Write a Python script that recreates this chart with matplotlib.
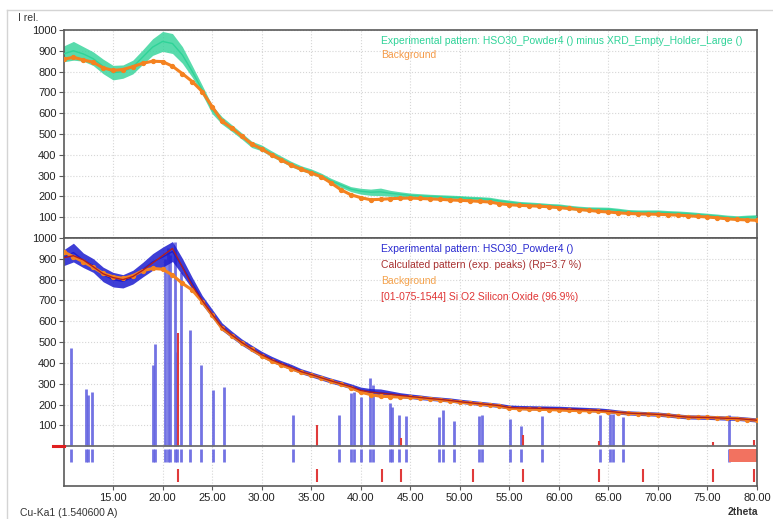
import matplotlib
matplotlib.use("Agg")
import matplotlib.pyplot as plt
import numpy as np

plt.rcParams['font.family'] = ['Liberation Sans', 'DejaVu Sans']

# ---------------- data ----------------
two_theta = list(range(10, 81))

upper_exp = [885, 900, 885, 862, 825, 795, 800, 822, 870, 918, 945, 935, 880, 800, 712,
             618, 565, 528, 490, 450, 433, 405, 380, 355, 335, 320, 300, 275, 255, 235,
             225, 220, 222, 215, 210, 205, 202, 200, 198, 196, 194, 191, 189, 186, 178,
             172, 166, 163, 160, 156, 154, 148, 143, 140, 139, 138, 133, 127, 125, 125,
             125, 122, 120, 117, 113, 109, 105, 100, 97, 100, 102]

upper_bg = [859, 869, 856, 845, 818, 806, 810, 824, 840, 850, 848, 826, 790, 752, 704,
            632, 562, 528, 490, 452, 428, 400, 375, 350, 330, 313, 295, 265, 232, 208,
            194, 184, 186, 189, 191, 192, 190, 188, 186, 183, 181, 179, 176, 173, 165,
            160, 157, 155, 153, 150, 146, 142, 137, 133, 128, 125, 121, 118, 116, 115,
            114, 112, 110, 107, 104, 101, 97, 92, 89, 87, 85]

noise_halfwidth = [38, 45, 35, 33, 35, 35, 32, 33, 35, 40, 48, 48, 40,
                   28, 22, 20, 18, 16, 15, 15, 14,
                   14, 13, 13, 12, 12, 12, 12, 12, 12, 14,
                   15, 18, 14, 12, 11, 11, 10, 10, 10, 10,
                   10, 10, 10, 10, 10, 10, 10, 10, 10, 10,
                   10, 10, 10, 10, 10, 10, 10, 10, 10, 10,
                   10, 10, 10, 10, 10, 10, 10, 10, 10, 10]

lower_exp = [905, 930, 893, 868, 825, 800, 792, 812, 848, 885, 908, 935, 862, 782, 702,
             638, 574, 536, 500, 470, 442, 418, 398, 380, 360, 345, 330, 315, 302, 288,
             270, 262, 257, 252, 245, 240, 235, 230, 226, 222, 216, 211, 206, 201, 196,
             188, 186, 185, 184, 183, 182, 180, 178, 176, 174, 170, 164, 160, 158, 156,
             154, 150, 145, 141, 140, 139, 137, 135, 134, 130, 126]

lower_bg = [934, 910, 886, 859, 830, 814, 806, 819, 843, 854, 850, 822, 782, 750, 694,
            630, 566, 530, 496, 465, 434, 410, 390, 372, 355, 342, 328, 312, 298, 282,
            260, 248, 240, 238, 236, 235, 232, 228, 223, 218, 212, 207, 203, 198, 193,
            182, 180, 178, 177, 176, 174, 172, 171, 170, 168, 165, 161, 158, 156, 154,
            152, 148, 143, 140, 139, 138, 136, 134, 132, 128, 124]

lower_calc = [905, 915, 895, 862, 828, 810, 800, 815, 845, 880, 915, 950, 860, 770, 700,
              635, 572, 534, 498, 468, 440, 416, 396, 378, 358, 344, 329, 314, 300, 286,
              268, 260, 255, 250, 244, 239, 234, 229, 225, 220, 214, 209, 204, 200, 195,
              186, 184, 183, 182, 181, 180, 178, 176, 174, 172, 168, 163, 159, 157, 155,
              153, 149, 144, 140, 139, 138, 136, 134, 133, 129, 125]

blue_pos = [10.73, 12.31, 12.47, 12.91, 19.07, 19.27, 20.25, 20.52, 20.76, 21.23, 21.50,
            21.90, 22.78, 23.86, 25.07, 26.21, 33.21, 37.80, 39.04, 39.34, 40.02, 40.89,
            41.23, 43.00, 43.17, 43.90, 44.60, 47.90, 48.26, 49.44, 51.94, 52.20, 55.03,
            56.21, 58.30, 64.16, 65.13, 65.43, 66.44, 77.22]
blue_int = [470, 274, 246, 259, 390, 493, 900, 950, 920, 982, 454,
            838, 558, 390, 270, 283, 150, 150, 254, 262, 235, 326,
            294, 206, 190, 150, 145, 142, 174, 123, 147, 152, 133,
            97, 147, 150, 153, 153, 142, 150]

red_pos = [21.53, 35.61, 42.10, 44.07, 51.33, 56.34, 64.06, 68.50, 75.54, 79.68]
red_int = [542, 102, 0, 38, 0, 54, 24, 0, 20, 30]

xtick_vals = [15, 20, 25, 30, 35, 40, 45, 50, 55, 60, 65, 70, 75, 80]
ytick_vals = [100, 200, 300, 400, 500, 600, 700, 800, 900, 1000]

# ---------------- style ----------------
W, H = 773, 519
GREEN = '#2fd398'
ORANGE = '#f48220'
BLUE = '#1c1ccf'
CALC = '#b02020'
STICK_BLUE = '#6464e0'
STICK_RED = '#e03a3a'
SPINE = '#5a5a5a'
GRID = '#d6d6d6'

def fx(px):
    return px / W

def fy(py):
    return 1 - py / H

fig = plt.figure(figsize=(W / 100, H / 100), dpi=100)

left, right = 63.5, 757
ax1 = fig.add_axes([fx(left), fy(238), fx(right) - fx(left), fy(30) - fy(238)])
ax2 = fig.add_axes([fx(left), fy(486), fx(right) - fx(left), fy(238) - fy(486)])

x = np.array(two_theta, dtype=float)
nz = np.array(noise_halfwidth, dtype=float)

# upper panel
ue = np.array(upper_exp, dtype=float)
ax1.fill_between(x, ue - nz, ue + nz, color=GREEN, alpha=0.8, lw=0, zorder=2)
ax1.plot(x, ue, color=GREEN, lw=1.0, zorder=3)
ax1.plot(x, upper_bg, color=ORANGE, lw=2.2, marker='o', ms=2.8, zorder=4)
ax1.set_xlim(10, 80)
ax1.set_ylim(0, 1000)

# lower panel
ax2.vlines(blue_pos, 0, blue_int, color=STICK_BLUE, lw=2, alpha=0.9, zorder=1)
ax2.vlines(red_pos, 0, red_int, color=STICK_RED, lw=1.5, zorder=1.5)
ax2.vlines(blue_pos, -75, -13, color=STICK_BLUE, lw=2, alpha=0.9, zorder=1)
ax2.vlines(red_pos, -171, -109, color=STICK_RED, lw=1.5, zorder=1)
ax2.fill_between([77.22, 80], -75, -13, color='#f27260', lw=0, zorder=1.2)
le = np.array(lower_exp, dtype=float)
ax2.fill_between(x, le - nz, le + nz, color=BLUE, alpha=0.85, lw=0, zorder=2)
ax2.plot(x, le, color=BLUE, lw=1.0, zorder=3)
ax2.plot(x, lower_bg, color=ORANGE, lw=2.2, marker='o', ms=2.8, zorder=4)
ax2.plot(x, lower_calc, color=CALC, lw=1.0, zorder=5)
ax2.axhline(0, color='#6e6e6e', lw=1.3, zorder=6)
ax2.plot([8.9, 10], [0, 0], color='#e02020', lw=2.2, clip_on=False, zorder=7)
ax2.set_xlim(10, 80)
ax2.set_ylim(-191, 1000)

for ax in (ax1, ax2):
    ax.set_yticks(ytick_vals)
    ax.set_xticks(xtick_vals)
    ax.grid(True, color=GRID, ls=':', lw=0.8)
    ax.set_axisbelow(True)
    for s in ax.spines.values():
        s.set_color(SPINE)
        s.set_linewidth(1.2)
    ax.tick_params(axis='y', direction='out', length=3.5, width=0.8, color=SPINE,
                   labelsize=8, labelcolor='#222222', pad=1.5)

ax1.tick_params(axis='x', length=0, labelbottom=False)
ax2.set_xticklabels([f"{v:.2f}" for v in xtick_vals])
ax2.tick_params(axis='x', direction='out', length=3, width=0.8, color=SPINE,
                labelsize=8, labelcolor='#222222', pad=2)

# legend texts
fs = 7.5
fig.text(fx(381), fy(40.5), "Experimental pattern: HSO30_Powder4 () minus XRD_Empty_Holder_Large ()",
         color=GREEN, fontsize=fs, va='center', ha='left')
fig.text(fx(381), fy(55.5), "Background", color='#f49a48', fontsize=fs, va='center', ha='left')
fig.text(fx(381), fy(249), "Experimental pattern: HSO30_Powder4 ()", color='#2a2ad0',
         fontsize=fs, va='center', ha='left')
fig.text(fx(381), fy(265), "Calculated pattern (exp. peaks) (Rp=3.7 %)", color='#a83030',
         fontsize=fs, va='center', ha='left')
fig.text(fx(381), fy(281), "Background", color='#f4a24c', fontsize=fs, va='center', ha='left')
fig.text(fx(381), fy(297), "[01-075-1544] Si O2 Silicon Oxide (96.9%)", color='#e03434',
         fontsize=fs, va='center', ha='left')

# outer labels
fig.text(fx(18), fy(18), "I rel.", color='#333333', fontsize=7.5, va='center', ha='left')
fig.text(fx(20), fy(513), "Cu-Ka1 (1.540600 A)", color='#333333', fontsize=7.5, va='center', ha='left')
fig.text(fx(758), fy(512), "2theta", color='#333333', fontsize=7.5, va='center', ha='right',
         fontweight='bold')

# light window frame
fig.add_artist(plt.Line2D([fx(7), 1], [fy(10), fy(10)], color='#d4d4d4', lw=1))
fig.add_artist(plt.Line2D([fx(7), fx(7)], [fy(10), 0], color='#d4d4d4', lw=1))

fig.savefig("out.png", dpi=100)
